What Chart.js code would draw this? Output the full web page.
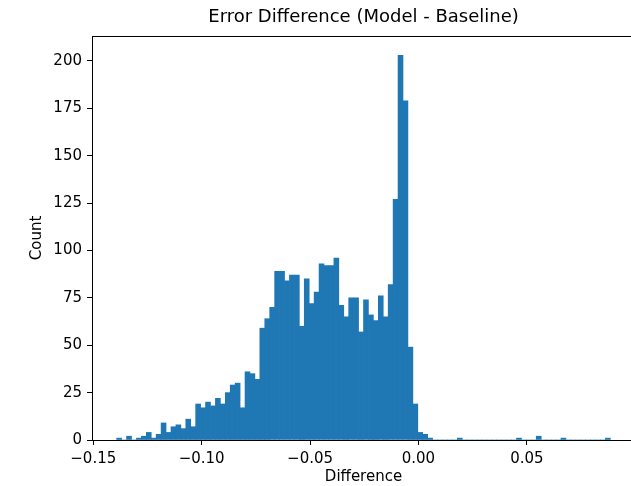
<!DOCTYPE html>
<html lang="en">
<head>
<meta charset="UTF-8">
<title>Error Difference (Model - Baseline)</title>
<script src="https://cdn.jsdelivr.net/npm/chart.js"></script>
<style>
    html, body { margin: 0; padding: 0; background: #fff; overflow: hidden; }
    /* the reference is cropped just before the right spine */
    #chartContainer { width: 636px; height: 486px; }
</style>
</head>
<body>
<div id="chartContainer">
    <canvas id="histChart"></canvas>
</div>
<script>
    // histogram: 100 equal bins
    const binStart = -0.1392;
    const binWidth = 0.002277;
    const counts = [
        1, 0, 2, 0, 1, 2, 4, 1, 3, 9,
        4, 7, 8, 6, 11, 7, 19, 17, 20, 18,
        22, 19, 25, 29, 30, 17, 36, 35, 32, 59,
        64, 70, 89, 89, 84, 87, 87, 60, 85, 72,
        78, 93, 92, 92, 96, 71, 65, 75, 75, 57,
        74, 66, 63, 76, 65, 82, 127, 203, 179, 49,
        19, 4, 3, 1, 0, 0, 0, 0, 0, 1,
        0, 0, 0, 0, 0, 0, 0, 0, 0, 0,
        0, 1, 0, 0, 0, 2, 0, 0, 0, 0,
        1, 0, 0, 0, 0, 0, 0, 0, 0, 1
    ];
    const xTickValues = [-0.15, -0.10, -0.05, 0.00, 0.05];
    const yTickValues = [0, 25, 50, 75, 100, 125, 150, 175, 200];

    // matplotlib-like 5% margins
    const binEnd = binStart + counts.length * binWidth;
    const xMin = binStart - 0.05 * (binEnd - binStart);
    const xMax = binEnd + 0.05 * (binEnd - binStart);
    const yMax = Math.max(...counts) * 1.05;

    const barData = counts.map((c, i) => ({ x: binStart + (i + 0.5) * binWidth, y: c }));

    const fmt = v => v.toFixed(2).replace('-', '\u2212');

    const tickFont = { family: 'DejaVu Sans', size: 15 };

    const frame = {
        id: 'frame',
        afterDraw(chart) {
            const a = chart.chartArea;
            const ctx = chart.ctx;
            ctx.save();
            ctx.strokeStyle = '#000';
            ctx.lineWidth = 1;
            ctx.strokeRect(Math.round(a.left) + 0.5, Math.round(a.top) + 0.5,
                Math.round(a.right - a.left) - 1, Math.round(a.bottom - a.top));
            ctx.restore();
        }
    };

    Chart.defaults.color = '#000';
    Chart.defaults.font.family = 'DejaVu Sans';

    new Chart(document.getElementById('histChart'), {
        type: 'bar',
        data: {
            datasets: [{
                data: barData,
                backgroundColor: '#1f77b4',
                borderWidth: 0,
                barPercentage: 1,
                categoryPercentage: 1
            }]
        },
        options: {
            responsive: true,
            maintainAspectRatio: false,
            animation: false,
            layout: { padding: { left: 0, right: 1, top: 0, bottom: 0 } },
            plugins: {
                legend: { display: false },
                tooltip: { enabled: false },
                title: {
                    display: true,
                    text: 'Error Difference (Model - Baseline)',
                    fullSize: false,
                    color: '#000',
                    font: { family: 'DejaVu Sans', size: 18, weight: 'normal' },
                    padding: { top: 7, bottom: 7.4 }
                }
            },
            scales: {
                x: {
                    type: 'linear',
                    offset: false,
                    min: xMin,
                    max: xMax,
                    afterBuildTicks: axis => { axis.ticks = xTickValues.map(v => ({ value: v })); },
                    afterFit: scale => { scale.height = 46; },
                    ticks: {
                        font: tickFont,
                        color: '#000',
                        padding: 5,
                        autoSkip: false,
                        maxRotation: 0,
                        callback: v => fmt(v)
                    },
                    grid: {
                        offset: false,
                        drawOnChartArea: false,
                        drawTicks: true,
                        tickLength: 5,
                        tickColor: '#000'
                    },
                    border: { display: true, color: '#000' },
                    title: {
                        display: true,
                        text: 'Difference',
                        color: '#000',
                        font: tickFont,
                        padding: { top: 0, bottom: 0 }
                    }
                },
                y: {
                    min: 0,
                    max: yMax,
                    afterBuildTicks: axis => { axis.ticks = yTickValues.map(v => ({ value: v })); },
                    afterFit: scale => { scale.width = 92; },
                    ticks: {
                        font: tickFont,
                        color: '#000',
                        padding: 5
                    },
                    grid: {
                        drawOnChartArea: false,
                        drawTicks: true,
                        tickLength: 5,
                        tickColor: '#000'
                    },
                    border: { display: true, color: '#000' },
                    title: {
                        display: true,
                        text: 'Count',
                        color: '#000',
                        font: tickFont,
                        padding: { top: 28, bottom: 4 }
                    }
                }
            }
        },
        plugins: [frame]
    });
</script>
</body>
</html>
